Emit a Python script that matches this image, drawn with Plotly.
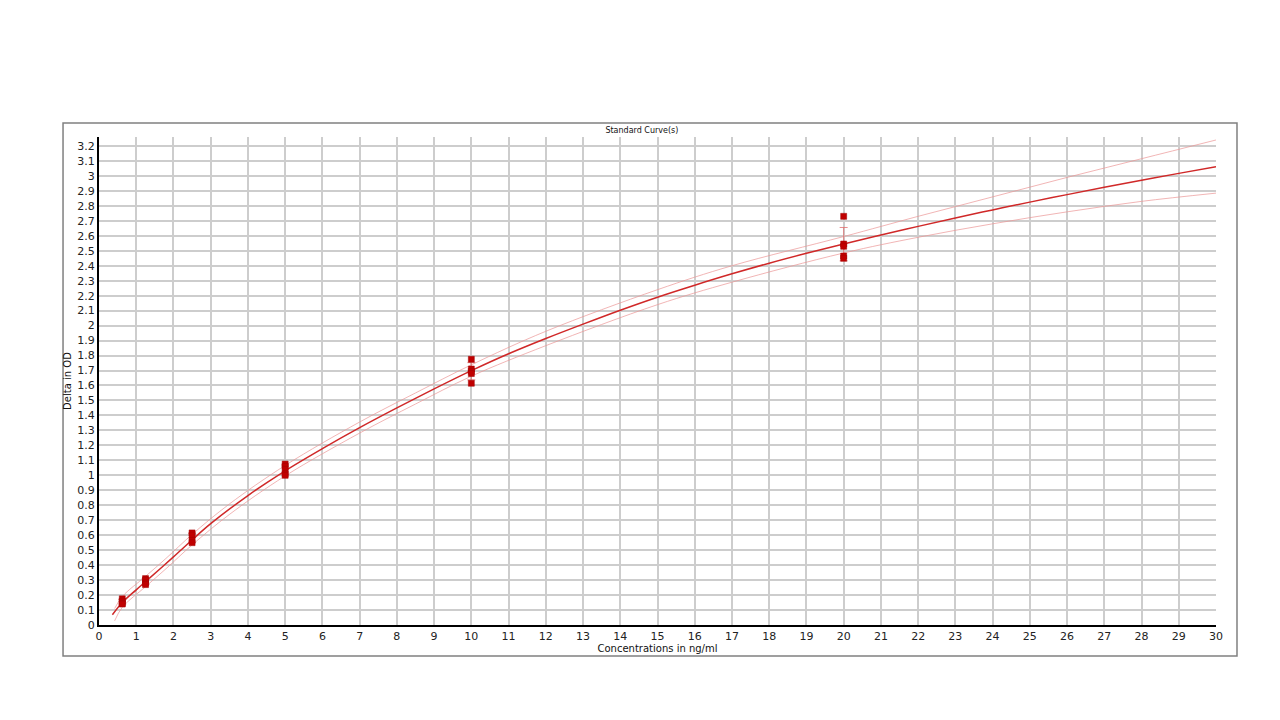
import numpy as np
import plotly.graph_objects as go

# standards (ng/ml) and replicate ODs
std_conc = [0.625, 1.25, 2.5, 5, 10, 20]
od_reps = [
	[0.175, 0.16, 0.145, 0.14],
	[0.31, 0.30, 0.28, 0.27],
	[0.615, 0.60, 0.565, 0.55],
	[1.075, 1.06, 1.04, 1.01, 1.0],
	[1.775, 1.71, 1.695, 1.68, 1.615],
	[2.73, 2.545, 2.53, 2.465, 2.45],
]

# fitted curve, read at these concentrations
curve_x = [0.36, 0.625, 1, 1.25, 2, 2.5, 3, 4, 5, 6, 7, 8, 9, 10, 11, 12, 13, 14, 15,
		   16, 17, 18, 19, 20, 21, 22, 23, 24, 25, 26, 27, 28, 29, 30]
curve_y = [0.068, 0.15, 0.235, 0.29, 0.455, 0.568, 0.677, 0.865, 1.03, 1.178, 1.318, 1.45,
		   1.577, 1.699, 1.812, 1.914, 2.01, 2.103, 2.19, 2.27, 2.346, 2.417, 2.483, 2.545,
		   2.605, 2.663, 2.719, 2.773, 2.825, 2.875, 2.924, 2.971, 3.017, 3.062]

# confidence band
band_x = [0.42, 0.625, 1.25, 1.8, 2.5, 3.5, 5, 7, 8.5, 10, 12, 15, 17, 20, 22, 24, 26, 28, 30]
band_hi = [0.11, 0.19, 0.325, 0.445, 0.605, 0.808, 1.066, 1.356, 1.55, 1.738, 1.962,
		   2.24, 2.4, 2.595, 2.73, 2.86, 2.99, 3.115, 3.24]
band_lo = [0.028, 0.118, 0.256, 0.376, 0.535, 0.738, 0.996, 1.282, 1.476, 1.662, 1.866,
		   2.14, 2.29, 2.485, 2.59, 2.68, 2.76, 2.83, 2.885]

x_ticks = list(range(0, 31))
y_ticks = [round(v * 0.1, 1) for v in range(0, 33)]

pts_x, pts_y = [], []
for c, reps in zip(std_conc, od_reps):
	pts_x += [c] * len(reps)
	pts_y += reps
means = [np.mean(r) for r in od_reps]
sds = [np.std(r, ddof=1) for r in od_reps]

fig = go.Figure()

for yy in (band_hi, band_lo):
	fig.add_trace(go.Scatter(
		x = band_x, y = yy,
		mode = 'lines',
		line = dict(color = 'rgba(235,150,150,0.7)', width = 1, shape = 'spline'),
		showlegend = False,
		hoverinfo = 'skip',
	))

fig.add_trace(go.Scatter(
	x = curve_x, y = curve_y,
	mode = 'lines',
	line = dict(color = '#d02828', width = 1.5, shape = 'spline'),
	showlegend = False,
))

fig.add_trace(go.Scatter(
	x = std_conc, y = means,
	mode = 'markers',
	marker = dict(color = 'rgba(0,0,0,0)', size = 2),
	error_y = dict(type = 'data', array = sds, visible = True,
				   color = 'rgba(225,110,110,0.8)', thickness = 1, width = 4),
	showlegend = False,
	hoverinfo = 'skip',
))

fig.add_trace(go.Scatter(
	x = pts_x, y = pts_y,
	mode = 'markers',
	marker = dict(symbol = 'square', size = 6, color = '#c00000',
				  line = dict(color = '#a00000', width = 0.5)),
	showlegend = False,
))

fig.add_shape(
	type = 'rect', xref = 'paper', yref = 'paper',
	x0 = -0.0322, x1 = 1.0188, y0 = -0.0635, y1 = 1.0287,
	line = dict(color = '#808080', width = 1.5),
)

fig.update_xaxes(
	range = [0, 30],
	tickvals = x_ticks,
	ticktext = [str(v) for v in x_ticks],
	showgrid = True, gridcolor = '#cdcdcd', gridwidth = 1.5,
	zeroline = False,
	showline = True, linecolor = 'black', linewidth = 2,
	ticks = '',
	tickfont = dict(family = 'DejaVu Sans', size = 11, color = '#222'),
	title = dict(text = 'Concentrations in ng/ml', standoff = 2,
				 font = dict(family = 'DejaVu Sans', size = 10, color = '#111')),
)
fig.update_yaxes(
	range = [0, 3.26],
	tickvals = y_ticks,
	ticktext = [f'{v:g}' for v in y_ticks],
	showgrid = True, gridcolor = '#cdcdcd', gridwidth = 1.5,
	zeroline = False,
	showline = True, linecolor = 'black', linewidth = 2,
	ticks = '',
	tickfont = dict(family = 'DejaVu Sans', size = 11, color = '#222'),
	title = dict(text = 'Delta in OD', standoff = 4,
				 font = dict(family = 'DejaVu Sans', size = 10, color = '#111')),
)

# page body adds 8px, so margins are shifted by that
fig.update_layout(
	width = 1280, height = 720,
	margin = dict(l = 91, r = 72, t = 129, b = 103),
	paper_bgcolor = 'white',
	plot_bgcolor = 'white',
	title = dict(text = 'Standard Curve(s)', x = 0.486, xref = 'paper',
				 y = 0.8306, yanchor = 'middle',
				 font = dict(family = 'DejaVu Sans', size = 8, color = '#111')),
)

fig.write_html('out.html')
